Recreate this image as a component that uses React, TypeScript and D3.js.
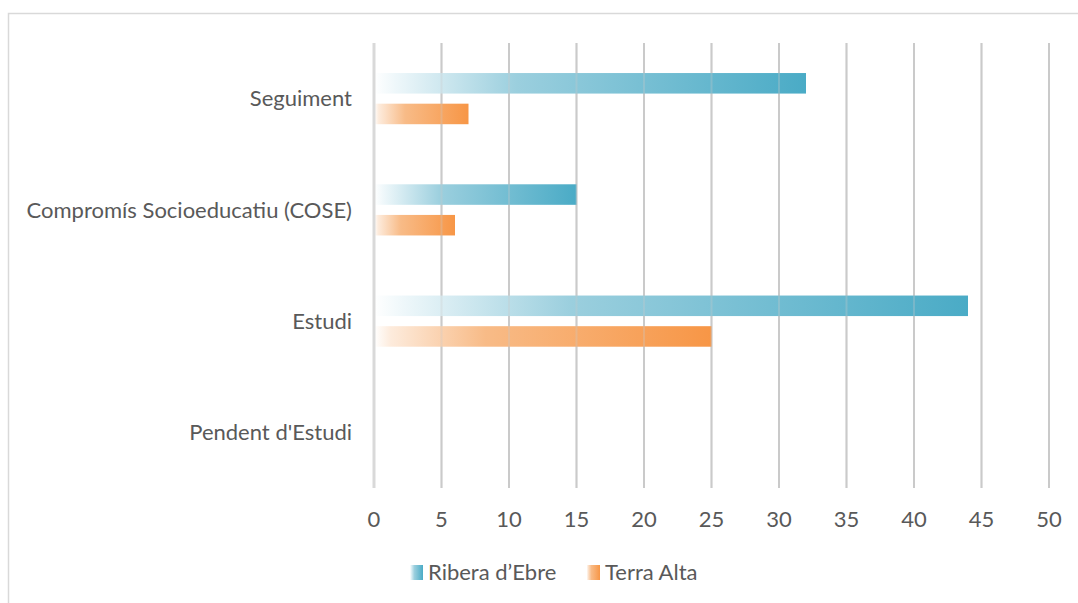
import React from 'react';
import * as d3 from 'd3';

// categories from top to bottom
const categories = ['Seguiment', 'Compromís Socioeducatiu (COSE)', 'Estudi', "Pendent d'Estudi"];
const seriesNames = ['Ribera d’Ebre', 'Terra Alta'];
const riberaValues = [32, 15, 44, 0];
const terraValues = [7, 6, 25, 0];
const xTicks = [0, 5, 10, 15, 20, 25, 30, 35, 40, 45, 50];

const W = 1078;
const H = 603;
const FONT = 'Lato, "Open Sans", sans-serif';
const TXT = '#595959';
const FS = 22;

const App = () => {
  const x = d3.scaleLinear().domain([0, 50]).range([374, 1049]);
  const y0 = d3.scaleBand<string>().domain(categories).range([43, 488]).paddingInner(0.54).paddingOuter(0.27);
  const y1 = d3.scaleBand<string>().domain(seriesNames).range([0, y0.bandwidth()]).paddingInner(0.33);

  const rows = categories.map((c, i) => ({
    cat: c,
    vals: [
      {name: seriesNames[0], v: riberaValues[i], grad: 'gBlue'},
      {name: seriesNames[1], v: terraValues[i], grad: 'gOrange'},
    ],
  }));

  const gridLines = (opacity: number) =>
    xTicks.filter(t => t > 0).map(t => (
      <line key={t} x1={x(t)} x2={x(t)} y1={43} y2={488} stroke="#cacaca" strokeWidth={2} opacity={opacity}/>
    ));

  return (
    <svg width={W} height={H} style={{position: 'absolute', left: 0, top: 0}} fontFamily={FONT}>
      <defs>
        <linearGradient id="gBlue" x1="0" x2="1" y1="0" y2="0">
          <stop offset="0" stopColor="#ffffff"/>
          <stop offset="0.05" stopColor="#eef7fa"/>
          <stop offset="0.33" stopColor="#9bcfde"/>
          <stop offset="1" stopColor="#4aabc6"/>
        </linearGradient>
        <linearGradient id="gOrange" x1="0" x2="1" y1="0" y2="0">
          <stop offset="0" stopColor="#ffffff"/>
          <stop offset="0.05" stopColor="#fdebdc"/>
          <stop offset="0.33" stopColor="#f8bb87"/>
          <stop offset="1" stopColor="#f79646"/>
        </linearGradient>
      </defs>

      {/* chart area border */}
      <rect x={8.5} y={13.5} width={W} height={H} fill="none" stroke="#d9d9d9" strokeWidth={1.5}/>

      {gridLines(1)}

      {rows.map(r => (
        <g key={r.cat} transform={`translate(0,${y0(r.cat)})`}>
          {r.vals.filter(d => d.v > 0).map(d => (
            <rect key={d.name} x={x(0)} y={y1(d.name)} width={x(d.v) - x(0)} height={y1.bandwidth()}
                  fill={`url(#${d.grad})`}/>
          ))}
        </g>
      ))}

      {gridLines(0.3)}
      <line x1={x(0)} x2={x(0)} y1={43} y2={488} stroke="#d9d9d9" strokeWidth={3}/>

      {categories.map(c => (
        <text key={c} x={352} y={(y0(c) as number) + y0.bandwidth() / 2} dy="0.35em" textAnchor="end"
              fontSize={FS} fill={TXT}>{c}</text>
      ))}

      {xTicks.map(t => (
        <text key={t} x={x(t)} y={527} textAnchor="middle" fontSize={FS} fill={TXT}>{t}</text>
      ))}

      {/* legend */}
      {[{name: seriesNames[0], grad: 'gBlue', lx: 410}, {name: seriesNames[1], grad: 'gOrange', lx: 587}].map(l => (
        <g key={l.name}>
          <rect x={l.lx} y={565} width={13} height={15} fill={`url(#${l.grad})`}/>
          <text x={l.lx + 18} y={580} fontSize={FS} fill={TXT}>{l.name}</text>
        </g>
      ))}
    </svg>
  );
};

export default App;
